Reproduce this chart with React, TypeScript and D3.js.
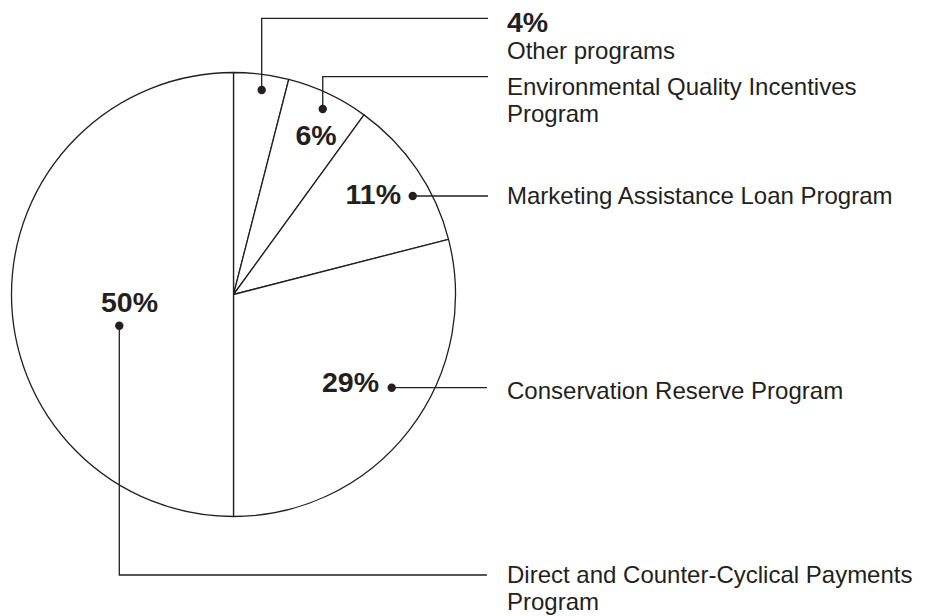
import React from "react";
import * as d3 from "d3";

const programs = [
  "Other programs",
  "Environmental Quality Incentives Program",
  "Marketing Assistance Loan Program",
  "Conservation Reserve Program",
  "Direct and Counter-Cyclical Payments Program",
];
const shares = [4, 6, 11, 29, 50];
const labelLines = [
  ["Other programs"],
  ["Environmental Quality Incentives", "Program"],
  ["Marketing Assistance Loan Program"],
  ["Conservation Reserve Program"],
  ["Direct and Counter-Cyclical Payments", "Program"],
];

const W = 928;
const H = 616;
const CX = 233.5;
const CY = 294.5;
const R = 222;
const INK = "#231f20";
const FONT = "'Liberation Sans', Arial, Helvetica, sans-serif";

// layout of annotations (positions only)
const layout = [
  { dotA: 7.85, dotR: 206.4, pct: [507, 31.5], pctAnchor: "start", elbowY: 18.3, lineEnd: 488, textX: 507, textY: [58.5] },
  { dotA: 25.7, dotR: 205.8, pct: [316, 145], pctAnchor: "middle", elbowY: 76.7, lineEnd: 488, textX: 507, textY: [95, 122] },
  { dotA: 61.2, dotR: 204.5, pct: [401, 204], pctAnchor: "end", elbowY: null, lineEnd: 488, textX: 507, textY: [204] },
  { dotA: 120.5, dotR: 183.6, pct: [379, 392], pctAnchor: "end", elbowY: null, lineEnd: 487, textX: 507, textY: [398.5] },
  { dotA: 254.7, dotR: 118.4, pct: [129.5, 312], pctAnchor: "middle", elbowY: 575, lineEnd: 487, textX: 507, textY: [582.5, 610] },
];

export default function App() {
  const pie = d3.pie<number>().sort(null).value((d) => d);
  const arcs = pie(shares);
  const arc = d3.arc<d3.PieArcDatum<number>>().innerRadius(0).outerRadius(R);
  const toRad = (deg: number) => (deg * Math.PI) / 180;

  return (
    <svg
      width={W}
      height={H}
      style={{ position: "absolute", left: 0, top: 0, background: "#fff" }}
    >
      <g transform={`translate(${CX},${CY})`}>
        {arcs.map((a, i) => (
          <path
            key={programs[i]}
            d={arc(a) || ""}
            fill="#fff"
            stroke={INK}
            strokeWidth={1.3}
            strokeLinejoin="round"
          />
        ))}
      </g>
      {arcs.map((a, i) => {
        const L = layout[i];
        const dx = CX + L.dotR * Math.sin(toRad(L.dotA));
        const dy = CY - L.dotR * Math.cos(toRad(L.dotA));
        const pts: [number, number][] =
          L.elbowY !== null
            ? [
                [dx, dy],
                [dx, L.elbowY],
                [L.lineEnd, L.elbowY],
              ]
            : [
                [dx, dy],
                [L.lineEnd, dy],
              ];
        const line = d3.line();
        return (
          <g key={"ann" + i}>
            <path d={line(pts) || ""} fill="none" stroke={INK} strokeWidth={1.3} />
            <circle cx={dx} cy={dy} r={4.2} fill={INK} />
            <text
              x={L.pct[0]}
              y={L.pct[1]}
              textAnchor={L.pctAnchor as any}
              fontFamily={FONT}
              fontWeight="bold"
              fontSize={28.5}
              fill={INK}
            >
              {`${a.data}%`}
            </text>
            {labelLines[i].map((t, j) => (
              <text
                key={j}
                x={L.textX}
                y={L.textY[j]}
                fontFamily={FONT}
                fontSize={24}
                fill={INK}
              >
                {t}
              </text>
            ))}
          </g>
        );
      })}
    </svg>
  );
}
